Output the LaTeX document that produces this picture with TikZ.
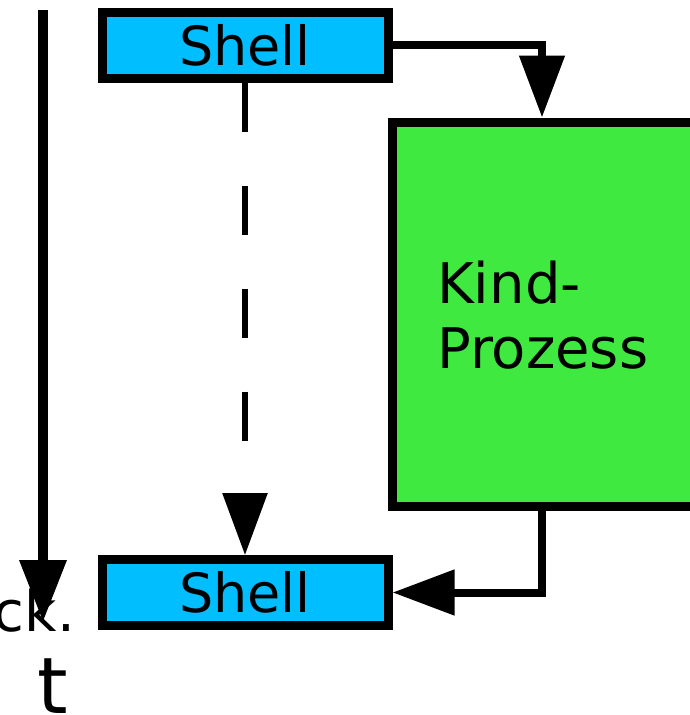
\documentclass[tikz,border=0pt]{standalone}
\usepackage{fontspec}
\setmainfont{DejaVu Sans}
\usetikzlibrary{arrows.meta}
\definecolor{shellblue}{RGB}{0,190,255}
\definecolor{kindgreen}{RGB}{64,233,64}
\tikzset{
  shellbox/.style={draw=black, line width=9pt, fill=shellblue, minimum width=286pt, minimum height=66pt, inner sep=0pt, font=\fontsize{54}{65}\selectfont},
  kindbox/.style={draw=black, line width=9pt, fill=kindgreen, minimum width=308pt, minimum height=384pt, inner sep=0pt},
  conn/.style={line width=8pt, -{Triangle[length=62pt,width=44pt]}},
  dashconn/.style={conn, line width=6pt, dash pattern=on 49pt off 54pt},
  bigtext/.style={font=\fontsize{56}{65}\selectfont, inner sep=0pt}
}
\begin{document}
\begin{tikzpicture}[x=1pt,y=-1pt]
\useasboundingbox (0,0) rectangle (689,715);
\node[shellbox] (shellTop) at (245,45) {Shell};
\node[shellbox] (shellBot) at (245,592.5) {Shell};
\node[kindbox] (kind) at (546,314) {};
\node[bigtext, anchor=base west, align=left] (kindtext) at (437,368) {Kind-\\Prozess};
\coordinate (ka) at (542,0);
\draw[conn] (shellTop.east) -| (kind.north -| ka);
\draw[conn] (kind.south -| ka) |- (shellBot.east);
\draw[dashconn] (shellTop.south) -- (shellBot.north);
\node[bigtext, anchor=base east, font=\fontsize{56}{65}\selectfont] (back) at (75,631) {ck.};
\node[bigtext, anchor=base, font=\fontsize{78}{90}\selectfont] (tlabel) at (53,713) {t};
\coordinate (t0) at (43,10);
\coordinate (t1) at (43,622);
\draw[conn, line width=10pt, -{Triangle[length=62pt,width=45pt]}] (t0) -- (t1);
\end{tikzpicture}
\end{document}
